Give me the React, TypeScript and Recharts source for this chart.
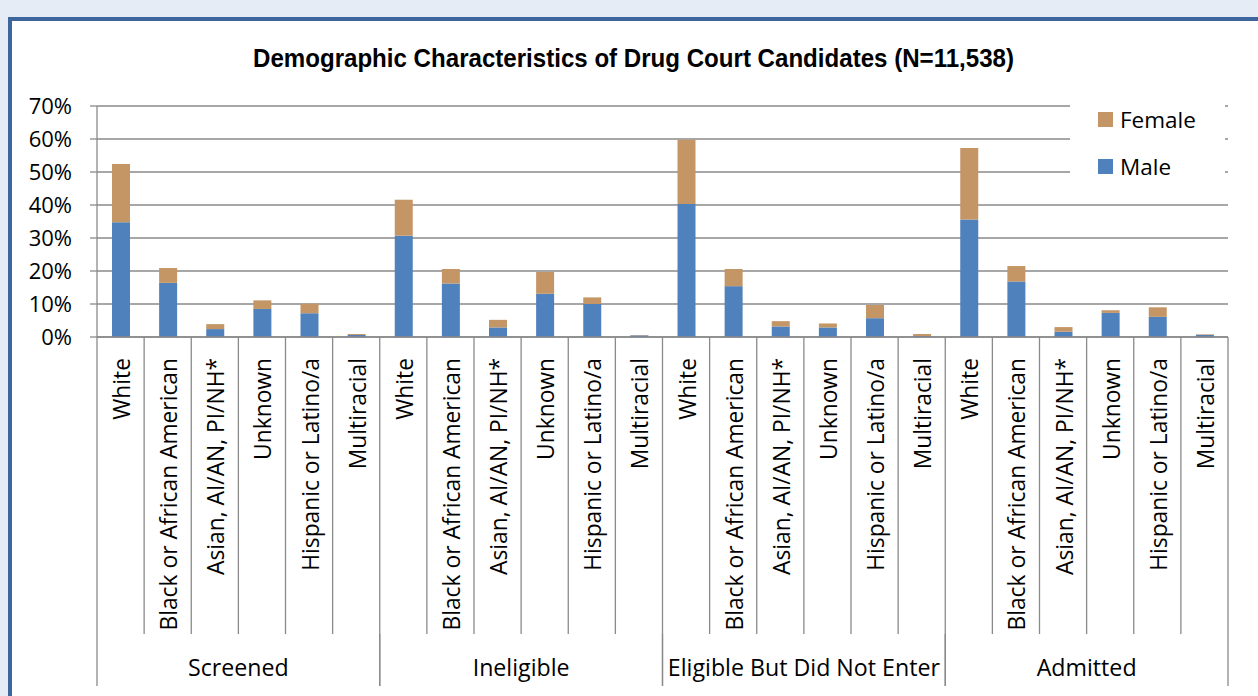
import React from 'react';
import { BarChart, Bar, XAxis, YAxis, CartesianGrid, Legend } from 'recharts';

const groups = ['Screened', 'Ineligible', 'Eligible But Did Not Enter', 'Admitted'];
const races = [
  'White',
  'Black or African American',
  'Asian, AI/AN, PI/NH*',
  'Unknown',
  'Hispanic or Latino/a',
  'Multiracial',
];
// percent of candidates, in group order then race order
const male = [
  34.8, 16.4, 2.4, 8.5, 7.2, 0.6,
  30.7, 16.2, 2.9, 13.1, 10.0, 0.5,
  40.3, 15.4, 3.2, 2.9, 5.7, 0.3,
  35.6, 16.8, 1.6, 7.3, 6.1, 0.6,
];
const female = [
  17.6, 4.5, 1.5, 2.6, 2.9, 0.3,
  10.9, 4.4, 2.3, 6.6, 2.0, 0.1,
  19.5, 5.2, 1.6, 1.2, 4.0, 0.6,
  21.7, 4.7, 1.4, 0.8, 2.9, 0.2,
];
const yTicks = [0, 10, 20, 30, 40, 50, 60, 70];
const title = 'Demographic Characteristics of Drug Court Candidates (N=11,538)';

const data = male.map((m, i) => ({
  race: races[i % races.length],
  group: groups[Math.floor(i / races.length)],
  Male: m,
  Female: female[i],
}));

const W = 1258;
const H = 696;
const M = { top: 106, right: 30, bottom: 10, left: 0 };
const Y_W = 97;
const CAT_H = 297;
const GRP_H = 52;
const BAND = (W - M.left - M.right - Y_W) / data.length;
const PLOT_BOTTOM = H - M.bottom - GRP_H - CAT_H;
const CAT_BOTTOM = PLOT_BOTTOM + CAT_H;
const GRP_BOTTOM = CAT_BOTTOM + GRP_H;

const GRID = '#8a8a8a';
const FONT = '"Open Sans", sans-serif';

const CatTick = (props: any) => {
  const { x, payload, index } = props;
  const left = x - BAND / 2;
  return (
    <g>
      <line x1={left} x2={left} y1={PLOT_BOTTOM} y2={CAT_BOTTOM} stroke={GRID} strokeWidth={1.3} />
      {index === data.length - 1 && (
        <line x1={left + BAND} x2={left + BAND} y1={PLOT_BOTTOM} y2={CAT_BOTTOM} stroke={GRID} strokeWidth={1.3} />
      )}
      <text
        transform={`translate(${x + 1},${PLOT_BOTTOM + 21}) rotate(-90)`}
        textAnchor="end"
        dominantBaseline="central"
        fontFamily={FONT}
        fontSize={22.8}
        fill="#000"
      >
        {payload.value}
      </text>
    </g>
  );
};

const GroupTick = (props: any) => {
  const { x, payload } = props;
  const half = (BAND * races.length) / 2;
  return (
    <g>
      <line x1={x - half} x2={x - half} y1={CAT_BOTTOM} y2={GRP_BOTTOM} stroke={GRID} strokeWidth={1.3} />
      <line x1={x + half} x2={x + half} y1={CAT_BOTTOM} y2={GRP_BOTTOM} stroke={GRID} strokeWidth={1.3} />
      <text x={x} y={CAT_BOTTOM + 42} textAnchor="middle" fontFamily={FONT} fontSize={23.2} fill="#000">
        {payload.value}
      </text>
    </g>
  );
};

const LegendContent = ({ payload }: any) => {
  const items = [...(payload || [])].sort((a: any, b: any) => String(a.value).localeCompare(String(b.value)));
  return (
    <div style={{ paddingTop: 0, paddingLeft: 28 }}>
      {items.map((p: any) => (
        <div key={p.value} style={{ display: 'flex', alignItems: 'center', height: 47, fontFamily: FONT, fontSize: 22.5, color: '#000' }}>
          <span style={{ display: 'inline-block', width: 15, height: 15, background: p.color, marginRight: 7 }} />
          <span>{p.value}</span>
        </div>
      ))}
    </div>
  );
};

export default function App() {
  return (
    <div style={{ position: 'fixed', left: 0, top: 0, width: W, height: H, background: '#e6ecf5', overflow: 'hidden' }}>
      <div
        style={{
          position: 'absolute',
          left: 8,
          top: 17,
          width: W,
          height: H,
          background: '#fff',
          border: '4px solid #3d669c',
          boxSizing: 'border-box',
        }}
      />
      <svg style={{ position: 'absolute', left: 0, top: 0 }} width={W} height={90}>
        <text
          x={253}
          y={67}
          textLength={761}
          lengthAdjust="spacingAndGlyphs"
          fontFamily='"Liberation Sans", Arial, sans-serif'
          fontWeight="bold"
          fontSize={26}
          fill="#000"
        >
          {title}
        </text>
      </svg>
      <div style={{ position: 'absolute', left: 0, top: 0 }}>
        <BarChart width={W} height={H} data={data} margin={M}>
          <CartesianGrid vertical={false} stroke={GRID} strokeWidth={1.3} />
          <XAxis
            dataKey="race"
            interval={0}
            height={CAT_H}
            tick={<CatTick />}
            tickLine={false}
            axisLine={{ stroke: GRID, strokeWidth: 1.3 }}
          />
          <XAxis
            xAxisId="grp"
            dataKey="group"
            allowDuplicatedCategory={false}
            interval={0}
            height={GRP_H}
            tick={<GroupTick />}
            tickLine={false}
            axisLine={false}
          />
          <YAxis
            width={Y_W}
            domain={[0, 70]}
            ticks={yTicks}
            interval={0}
            tickFormatter={(v: number) => `${v}%`}
            tickSize={7}
            tickMargin={18}
            tick={{ fontFamily: FONT, fontSize: 22, fill: '#000' }}
            axisLine={{ stroke: GRID, strokeWidth: 1.3 }}
            tickLine={{ stroke: GRID, strokeWidth: 1.3 }}
          />
          <Legend
            layout="vertical"
            align="center"
            verticalAlign="middle"
            content={<LegendContent />}
            wrapperStyle={{ left: 1070, top: 96, width: 155, height: 86, background: '#fff' }}
          />
          <Bar dataKey="Male" stackId="a" fill="#4f81bd" barSize={18} isAnimationActive={false} />
          <Bar dataKey="Female" stackId="a" fill="#c49565" barSize={18} isAnimationActive={false} />
        </BarChart>
      </div>
    </div>
  );
}
